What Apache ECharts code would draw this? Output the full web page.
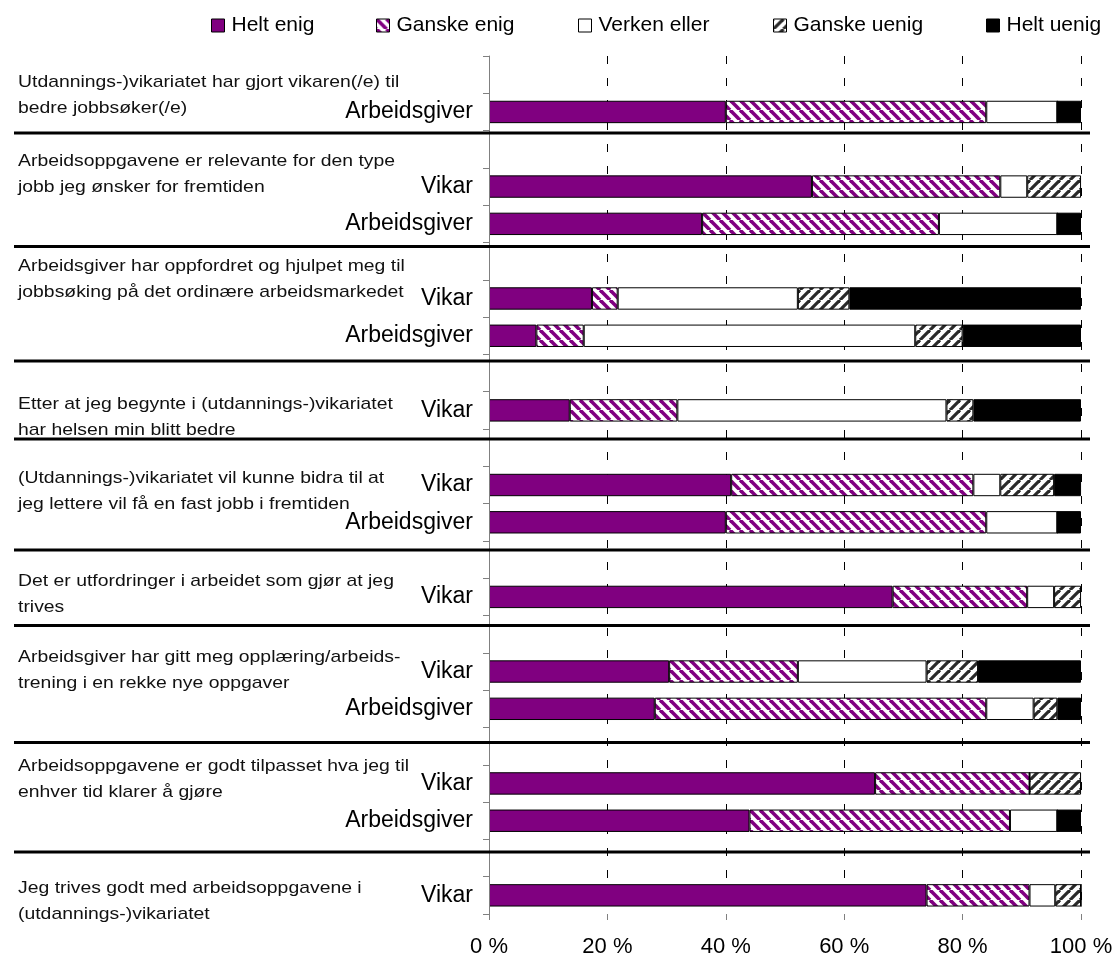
<!DOCTYPE html>
<html>
<head>
<meta charset="utf-8">
<script src="https://cdn.jsdelivr.net/npm/echarts@6/dist/echarts.min.js"></script>
<style>
  html, body { margin: 0; padding: 0; background: #ffffff; }
  #chart { width: 1118px; height: 958px; }
</style>
</head>
<body>
<div id="chart"></div>
<script>
// Survey statements (one block per statement)
const statements = [
  'Utdannings-)vikariatet har gjort vikaren(/e) til\nbedre jobbsøker(/e)',
  'Arbeidsoppgavene er relevante for den type\njobb jeg ønsker for fremtiden',
  'Arbeidsgiver har oppfordret og hjulpet meg til\njobbsøking på det ordinære arbeidsmarkedet',
  'Etter at jeg begynte i (utdannings-)vikariatet\nhar helsen min blitt bedre',
  '(Utdannings-)vikariatet vil kunne bidra til at\njeg lettere vil få en fast jobb i fremtiden',
  'Det er utfordringer i arbeidet som gjør at jeg\ntrives',
  'Arbeidsgiver har gitt meg opplæring/arbeids-\ntrening i en rekke nye oppgaver',
  'Arbeidsoppgavene er godt tilpasset hva jeg til\nenhver tid klarer å gjøre',
  'Jeg trives godt med arbeidsoppgavene i\n(utdannings-)vikariatet'
];

// Which respondent groups answered each statement
const respondents = [
  ['Arbeidsgiver'],
  ['Vikar', 'Arbeidsgiver'],
  ['Vikar', 'Arbeidsgiver'],
  ['Vikar'],
  ['Vikar', 'Arbeidsgiver'],
  ['Vikar'],
  ['Vikar', 'Arbeidsgiver'],
  ['Vikar', 'Arbeidsgiver'],
  ['Vikar']
];

// Answer categories
const answerNames = ['Helt enig', 'Ganske enig', 'Verken eller', 'Ganske uenig', 'Helt uenig'];

// Shares (%) per bar, in the order statements/respondents are listed
const heltEnig    = [40, 54.55, 36, 17.39, 8, 13.64, 40.91, 40, 68.18, 30.43, 28, 65.22, 44, 73.91];
const ganskeEnig  = [44, 31.82, 40, 4.35, 8, 18.18, 40.91, 44, 22.73, 21.74, 56, 26.09, 44, 17.39];
const verkenEller = [12, 4.55, 20, 30.43, 56, 45.45, 4.55, 12, 4.55, 21.74, 8, 0, 8, 4.35];
const ganskeUenig = [0, 9.09, 0, 8.70, 8, 4.55, 9.09, 0, 4.55, 8.70, 4, 8.70, 0, 4.35];
const heltUenig   = [4, 0, 4, 39.13, 20, 18.18, 4.55, 4, 0, 17.39, 4, 0, 4, 0];

// Value axis ticks
const xTicks = [0, 20, 40, 60, 80, 100];

// ---- layout (pixels) ----
const statementTop = [82, 161, 266, 404, 478, 581, 657, 766, 888]; // first line centre
const separatorY = [133, 246.5, 361, 439, 550, 625.5, 742.5, 852];
const legendLeft = [211, 376, 578, 773, 986];

// Category slots: an empty spacer slot before every statement block
const slots = [];
const barSlotIndex = [];
respondents.forEach(function (rows) {
  slots.push('');
  rows.forEach(function (r) {
    barSlotIndex.push(slots.length);
    slots.push(r);
  });
});

function toSlots(values) {
  const out = slots.map(function () { return '-'; });
  values.forEach(function (v, i) { out[barSlotIndex[i]] = v; });
  return out;
}

// Diagonal hatch tiles
function stripeTile(size, fg, bg, width, dir) {
  const c = document.createElement('canvas');
  c.width = size; c.height = size;
  const g = c.getContext('2d');
  g.fillStyle = bg;
  g.fillRect(0, 0, size, size);
  g.strokeStyle = fg;
  g.lineWidth = width;
  for (let k = -1; k <= 1; k++) {
    g.beginPath();
    if (dir === '/') {
      g.moveTo(k * size, size);
      g.lineTo(k * size + size, 0);
    } else {
      g.moveTo(k * size, 0);
      g.lineTo(k * size + size, size);
    }
    g.stroke();
  }
  return c;
}

const purple = '#800080';
const fills = [
  purple,
  { image: stripeTile(10, purple, '#ffffff', 3.6, '\\'), repeat: 'repeat' },
  '#ffffff',
  { image: stripeTile(10, '#2a2a2a', '#ffffff', 3.2, '/'), repeat: 'repeat' },
  '#000000'
];

const seriesValues = [heltEnig, ganskeEnig, verkenEller, ganskeUenig, heltUenig];

const series = answerNames.map(function (name, i) {
  return {
    name: name,
    type: 'bar',
    stack: 'svar',
    barWidth: '60%',
    data: toSlots(seriesValues[i]),
    itemStyle: { color: fills[i], borderColor: '#000000', borderWidth: 1 },
    emphasis: { disabled: true }
  };
});

const legends = answerNames.map(function (name, i) {
  return {
    data: [name],
    left: legendLeft[i],
    top: 15,
    icon: 'rect',
    itemWidth: 13,
    itemHeight: 13,
    itemGap: 0,
    padding: 0,
    selectedMode: false,
    itemStyle: { borderColor: '#000000', borderWidth: 1 },
    textStyle: { fontFamily: 'Liberation Sans', fontSize: 21, color: '#000000', padding: [0, 0, 0, 2] }
  };
});

const graphics = [];
statements.forEach(function (txt, i) {
  graphics.push({
    type: 'text',
    silent: true,
    x: 18,
    y: statementTop[i] - 13,
    scaleX: 1.14,
    style: {
      x: 0,
      y: 0,
      text: txt,
      font: '17px "Liberation Sans"',
      lineHeight: 26,
      fill: '#111111',
      verticalAlign: 'top'
    }
  });
});
separatorY.forEach(function (y) {
  graphics.push({
    type: 'line',
    silent: true,
    z: 100,
    shape: { x1: 14, y1: y, x2: 1090, y2: y },
    style: { stroke: '#000000', lineWidth: 3 }
  });
});

const chart = echarts.init(document.getElementById('chart'), null, { renderer: 'canvas' });
chart.setOption({
  animation: false,
  backgroundColor: '#ffffff',
  legend: legends,
  grid: { left: 489, right: 37, top: 56, bottom: 42, containLabel: false },
  xAxis: {
    type: 'value',
    min: xTicks[0],
    max: xTicks[xTicks.length - 1],
    interval: 20,
    z: 0,
    axisLine: { show: false },
    axisTick: { show: true, length: 6, lineStyle: { color: '#808080' } },
    splitLine: { show: true, lineStyle: { color: '#000000', width: 1, type: [8, 14] } },
    axisLabel: {
      formatter: '{value} %',
      fontFamily: 'Liberation Sans',
      fontSize: 22,
      color: '#000000',
      margin: 22
    }
  },
  yAxis: {
    type: 'category',
    inverse: true,
    data: slots,
    z: 3,
    axisLine: { show: true, lineStyle: { color: '#808080', width: 1 } },
    axisTick: { show: true, length: 6, interval: 0, lineStyle: { color: '#808080' } },
    axisLabel: {
      interval: 0,
      fontFamily: 'Liberation Sans',
      fontSize: 23,
      color: '#000000',
      margin: 16
    },
    splitLine: { show: false }
  },
  series: series,
  graphic: graphics
});
</script>
</body>
</html>
